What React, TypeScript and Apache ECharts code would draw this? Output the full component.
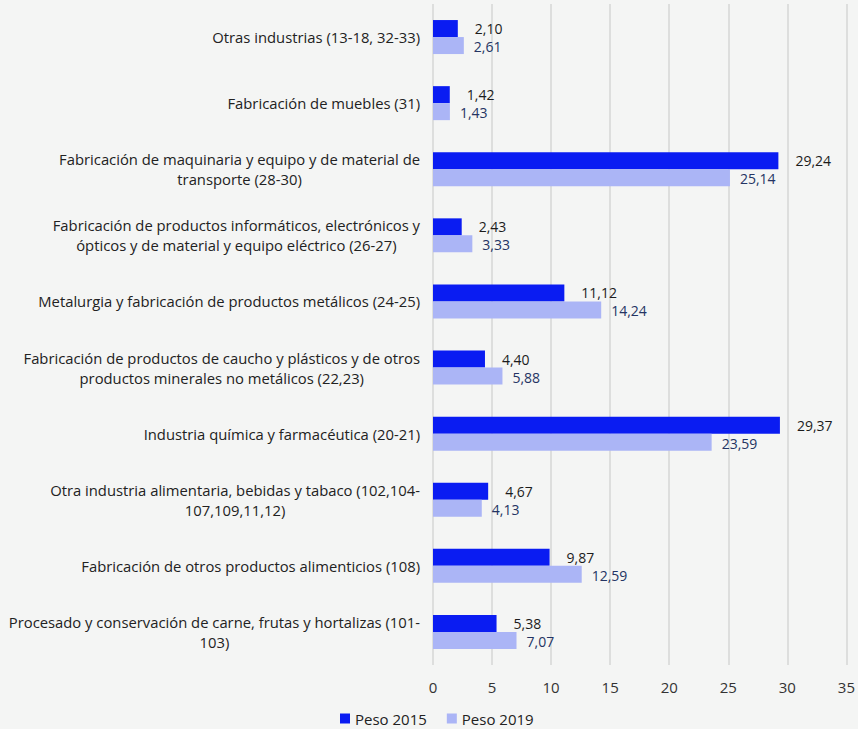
import React, { useEffect, useRef } from "react";
import * as echarts from "echarts";

const categories: string[][] = [
  ["Otras industrias (13-18, 32-33)"],
  ["Fabricación de muebles (31)"],
  ["Fabricación de maquinaria y equipo y de material de", "transporte (28-30)"],
  ["Fabricación de productos informáticos, electrónicos y", "ópticos y de material y equipo eléctrico (26-27)"],
  ["Metalurgia y fabricación de productos metálicos (24-25)"],
  ["Fabricación de productos de caucho y plásticos y de otros", "productos minerales no metálicos (22,23)"],
  ["Industria química y farmacéutica (20-21)"],
  ["Otra industria alimentaria, bebidas y tabaco (102,104-", "107,109,11,12)"],
  ["Fabricación de otros productos alimenticios (108)"],
  ["Procesado y conservación de carne, frutas y hortalizas (101-", "103)"],
];

const peso2015: number[] = [2.10, 1.42, 29.24, 2.43, 11.12, 4.40, 29.37, 4.67, 9.87, 5.38];
const peso2019: number[] = [2.61, 1.43, 25.14, 3.33, 14.24, 5.88, 23.59, 4.13, 12.59, 7.07];

const seriesNames = ["Peso 2015", "Peso 2019"];
const xTicks = { min: 0, max: 35, interval: 5 };

const FONT = "'Open Sans', sans-serif";
const fmt = (v: number) => v.toFixed(2).replace(".", ",");

export default function App() {
  const ref = useRef<HTMLDivElement>(null);
  useEffect(() => {
    if (!ref.current) return;
    const chart = echarts.init(ref.current, null, { renderer: "svg" });
    const catKeys = categories.map((c) => c.join("\n"));
    chart.setOption({
      animation: false,
      backgroundColor: "#f4f5f4",
      textStyle: { fontFamily: FONT },
      grid: { left: 433, right: 11, top: 4, bottom: 64, containLabel: false },
      legend: {
        top: 706,
        left: 335,
        itemWidth: 10,
        itemHeight: 10,
        itemGap: 20,
        icon: "rect",
        textStyle: { fontSize: 15, color: "#222", fontFamily: FONT },
        data: seriesNames,
      },
      xAxis: {
        type: "value",
        min: xTicks.min,
        max: xTicks.max,
        interval: xTicks.interval,
        axisLine: { show: false },
        axisTick: { show: false },
        axisLabel: { fontSize: 15, color: "#333", margin: 14, fontFamily: FONT },
        splitLine: { show: true, lineStyle: { color: "#d6d6d6", width: 1.5 } },
      },
      yAxis: {
        type: "category",
        inverse: true,
        data: catKeys,
        axisLine: { show: false },
        axisTick: { show: false },
        axisLabel: {
          margin: 13,
          align: "right",
          fontSize: 14.8,
          color: "#222",
          lineHeight: 20,
          fontFamily: FONT,
          formatter: (v: string) =>
            v.split("\n").map((l) => `{c|${l}}`).join("\n"),
          rich: {
            c: { align: "center", fontSize: 14.8, color: "#222", lineHeight: 20, fontFamily: FONT },
          },
        },
      },
      series: [
        {
          name: seriesNames[0],
          type: "bar",
          data: peso2015,
          barWidth: 17,
          barGap: "0%",
          itemStyle: { color: "#0a1cf2" },
          label: {
            show: true,
            position: "right",
            distance: 17,
            offset: [0, 0],
            fontSize: 14,
            lineHeight: 15,
            color: "#1c1c1c",
            fontFamily: FONT,
            formatter: (p: any) => fmt(p.value),
          },
        },
        {
          name: seriesNames[1],
          type: "bar",
          data: peso2019,
          barWidth: 17,
          barGap: "0%",
          itemStyle: { color: "#abb5f6" },
          label: {
            show: true,
            position: "right",
            distance: 10,
            offset: [0, 1],
            fontSize: 14,
            lineHeight: 15,
            color: "#243463",
            fontFamily: FONT,
            formatter: (p: any) => fmt(p.value),
          },
        },
      ],
    });
    return () => chart.dispose();
  }, []);
  return (
    <div
      ref={ref}
      style={{ position: "absolute", left: 0, top: 0, width: 858, height: 729 }}
    />
  );
}
